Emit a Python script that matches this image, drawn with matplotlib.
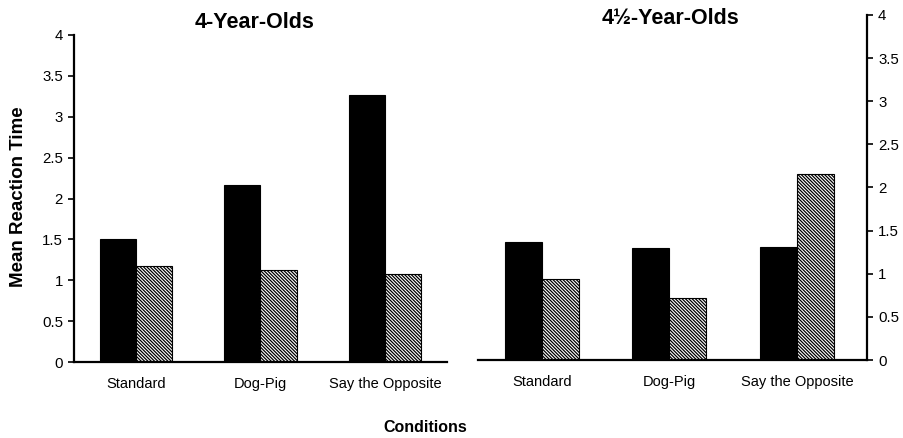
import numpy as np
import matplotlib
matplotlib.use('Agg')
import matplotlib.pyplot as plt

plt.rcParams['font.family'] = ['Liberation Sans', 'DejaVu Sans']
plt.rcParams['hatch.linewidth'] = 0.9

conditions = ['Standard', 'Dog-Pig', 'Say the Opposite']
# 4-year-olds
black4 = [1.50, 2.17, 3.27]
hatch4 = [1.17, 1.12, 1.08]
# 4.5-year-olds
black45 = [1.37, 1.30, 1.31]
hatch45 = [0.94, 0.72, 2.16]
yticks = [0, 0.5, 1, 1.5, 2, 2.5, 3, 3.5, 4]
ytick_labels = ['0', '0.5', '1', '1.5', '2', '2.5', '3', '3.5', '4']

fig = plt.figure(figsize=(9.04, 4.38), dpi=100)
ax1 = fig.add_axes([74/904, 76/438, 373/904, 327/438])
ax2 = fig.add_axes([478/904, 78/438, 389/904, 345/438])

x = np.arange(len(conditions))
w = 0.29

def draw(ax, black, hatched, side):
    ax.bar(x - w/2, black, w, color='black', edgecolor='black', linewidth=0.8)
    ax.bar(x + w/2, hatched, w, color='white', edgecolor='black',
           hatch='\\' * 10, linewidth=0.8)
    ax.set_ylim(0, 4)
    ax.set_yticks(yticks)
    ax.set_yticklabels(ytick_labels, fontsize=10.8)
    ax.set_xticks(x)
    ax.set_xticklabels(conditions, fontsize=10.5)
    ax.tick_params(axis='x', length=0, pad=11)
    ax.tick_params(axis='y', length=4, width=1.2, direction='out', pad=4)
    for s in ['top', side == 'left' and 'right' or 'left']:
        ax.spines[s].set_visible(False)
    ax.spines['bottom'].set_linewidth(1.6)
    ax.spines[side].set_linewidth(1.6)
    if side == 'right':
        ax.yaxis.tick_right()

draw(ax1, black4, hatch4, 'left')
ax1.set_xlim(-0.5, 2.5)
draw(ax2, black45, hatch45, 'right')
ax2.set_xlim(-0.5, 2.55)

fig.text(255/904, 1 - 23/438, '4-Year-Olds', ha='center', va='center',
         fontsize=15.5, fontweight='bold')
fig.text(671/904, 1 - 18/438, '4\u00bd-Year-Olds', ha='center', va='center',
         fontsize=15.5, fontweight='bold')
fig.text(19/904, 1 - 197/438, 'Mean Reaction Time', ha='center', va='center',
         rotation=90, fontsize=13.5, fontweight='bold')
fig.text(425/904, 1 - 427/438, 'Conditions', ha='center', va='center',
         fontsize=11.5, fontweight='bold')

plt.savefig('out.png', dpi=100)
